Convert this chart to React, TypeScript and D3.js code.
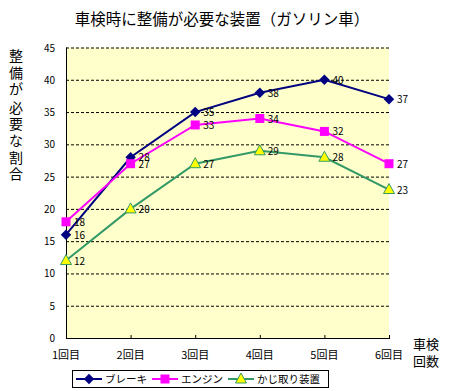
import { useEffect, useRef } from 'react';
import * as d3 from 'd3';

const categories = ['1回目', '2回目', '3回目', '4回目', '5回目', '6回目'];
const brake = [16, 28, 35, 38, 40, 37];
const engine = [18, 27, 33, 34, 32, 27];
const steering = [12, 20, 27, 29, 28, 23];
const yTicks = [0, 5, 10, 15, 20, 25, 30, 35, 40, 45];
const seriesNames = ['ブレーキ', 'エンジン', 'かじ取り装置'];
const yTitle = ['整', '備', 'が', '必', '要', 'な', '割', '合'];

const FONT = '"Noto Sans CJK JP", "Noto Sans", sans-serif';

export default function App() {
  const svgRef = useRef<SVGSVGElement>(null);

  useEffect(() => {
    const width = 450;
    const height = 391;
    const margin = { top: 47.5, right: 61, bottom: 53, left: 66 };

    const svg = d3.select(svgRef.current);
    svg.selectAll('*').remove();
    svg.attr('width', width).attr('height', height).style('font-family', FONT);

    const x = d3.scalePoint<string>().domain(categories).range([margin.left, width - margin.right]);
    const y = d3.scaleLinear().domain([0, 45]).range([height - margin.bottom, margin.top]);

    // 背景
    svg.append('rect').attr('width', width).attr('height', height).attr('fill', '#fff');
    svg.append('rect')
      .attr('x', margin.left).attr('y', y(45))
      .attr('width', x('6回目')! - margin.left).attr('height', y(0) - y(45))
      .attr('fill', '#FFFFCC');

    // タイトル
    svg.append('text')
      .attr('x', 222).attr('y', 25)
      .attr('text-anchor', 'middle')
      .style('font-size', '15.5px')
      .text('車検時に整備が必要な装置（ガソリン車）');

    // グリッド
    svg.append('g').selectAll('line')
      .data(yTicks.filter(d => d > 0))
      .join('line')
      .attr('x1', margin.left).attr('x2', x('6回目')!)
      .attr('y1', d => y(d) + 0.5).attr('y2', d => y(d) + 0.5)
      .attr('stroke', '#000').attr('stroke-dasharray', '3,2');

    // 軸
    svg.append('line')
      .attr('x1', margin.left + 0.5).attr('x2', margin.left + 0.5)
      .attr('y1', y(45)).attr('y2', y(0))
      .attr('stroke', '#000');
    svg.append('line')
      .attr('x1', margin.left).attr('x2', x('6回目')! + 1)
      .attr('y1', y(0) + 0.5).attr('y2', y(0) + 0.5)
      .attr('stroke', '#000');
    svg.append('g').selectAll('line')
      .data(categories.slice(1))
      .join('line')
      .attr('x1', d => x(d)! + 0.5).attr('x2', d => x(d)! + 0.5)
      .attr('y1', y(0) - 3).attr('y2', y(0))
      .attr('stroke', '#000');

    svg.append('g').selectAll('text')
      .data(yTicks)
      .join('text')
      .attr('x', 55).attr('y', d => y(d) + 4)
      .attr('text-anchor', 'end')
      .style('font-size', '10px')
      .text(d => d);

    svg.append('g').selectAll('text')
      .data(categories)
      .join('text')
      .attr('x', d => x(d)!).attr('y', y(0) + 21)
      .attr('text-anchor', 'middle')
      .style('font-size', '11px')
      .text(d => d);

    // 軸タイトル（縦書き）
    svg.append('g').selectAll('text')
      .data(yTitle)
      .join('text')
      .attr('x', 16).attr('y', (_, i) => 61 + i * 16.6 + (i >= 3 ? 2 : 0))
      .attr('text-anchor', 'middle')
      .style('font-size', '14px')
      .text(d => d);

    svg.append('text').attr('x', 426).attr('y', 349).attr('text-anchor', 'middle')
      .style('font-size', '13px').text('車検');
    svg.append('text').attr('x', 426).attr('y', 366).attr('text-anchor', 'middle')
      .style('font-size', '13px').text('回数');

    // 系列
    const series = [
      { name: seriesNames[0], values: brake, color: '#000080', marker: 'diamond' },
      { name: seriesNames[1], values: engine, color: '#FF00FF', marker: 'square' },
      { name: seriesNames[2], values: steering, color: '#339966', marker: 'triangle' },
    ];

    const drawMarker = (g: any, kind: string, color: string, cx: number, cy: number) => {
      if (kind === 'diamond') {
        g.append('path')
          .attr('d', d3.symbol(d3.symbolDiamond2, 70)())
          .attr('transform', `translate(${cx},${cy})`)
          .attr('fill', color);
      } else if (kind === 'square') {
        g.append('rect')
          .attr('x', cx - 4.5).attr('y', cy - 4.5).attr('width', 9).attr('height', 9)
          .attr('fill', color);
      } else {
        g.append('path')
          .attr('d', `M${cx},${cy - 6}L${cx + 5.5},${cy + 4}L${cx - 5.5},${cy + 4}Z`)
          .attr('fill', '#FFFF00').attr('stroke', color).attr('stroke-width', 1);
      }
    };

    const line = d3.line<number>()
      .x((_, i) => x(categories[i])!)
      .y(d => y(d));

    const plot = svg.append('g');
    series.forEach(s => {
      plot.append('path')
        .datum(s.values)
        .attr('fill', 'none')
        .attr('stroke', s.color)
        .attr('stroke-width', 2)
        .attr('d', line);
    });
    series.forEach(s => {
      s.values.forEach((v, i) => {
        drawMarker(plot, s.marker, s.color, x(categories[i])!, y(v));
      });
    });
    series.forEach(s => {
      s.values.forEach((v, i) => {
        plot.append('text')
          .attr('x', x(categories[i])! + 8).attr('y', y(v) + 4)
          .style('font-size', '10px')
          .text(v);
      });
    });

    // 凡例
    const legend = svg.append('g');
    legend.append('rect')
      .attr('x', 72.5).attr('y', 370.5).attr('width', 256).attr('height', 17)
      .attr('fill', '#fff').attr('stroke', '#000');
    const legendX = [76, 152, 228];
    const textX = [105, 181, 257];
    series.forEach((s, i) => {
      const ly = 379;
      legend.append('line')
        .attr('x1', legendX[i]).attr('x2', legendX[i] + 26)
        .attr('y1', ly).attr('y2', ly)
        .attr('stroke', s.color).attr('stroke-width', 2);
      drawMarker(legend, s.marker, s.color, legendX[i] + 13, ly);
      legend.append('text')
        .attr('x', textX[i]).attr('y', ly + 4)
        .style('font-size', '10.5px')
        .text(s.name);
    });
  }, []);

  return <svg ref={svgRef} style={{ position: 'absolute', left: 0, top: 0 }} />;
}
